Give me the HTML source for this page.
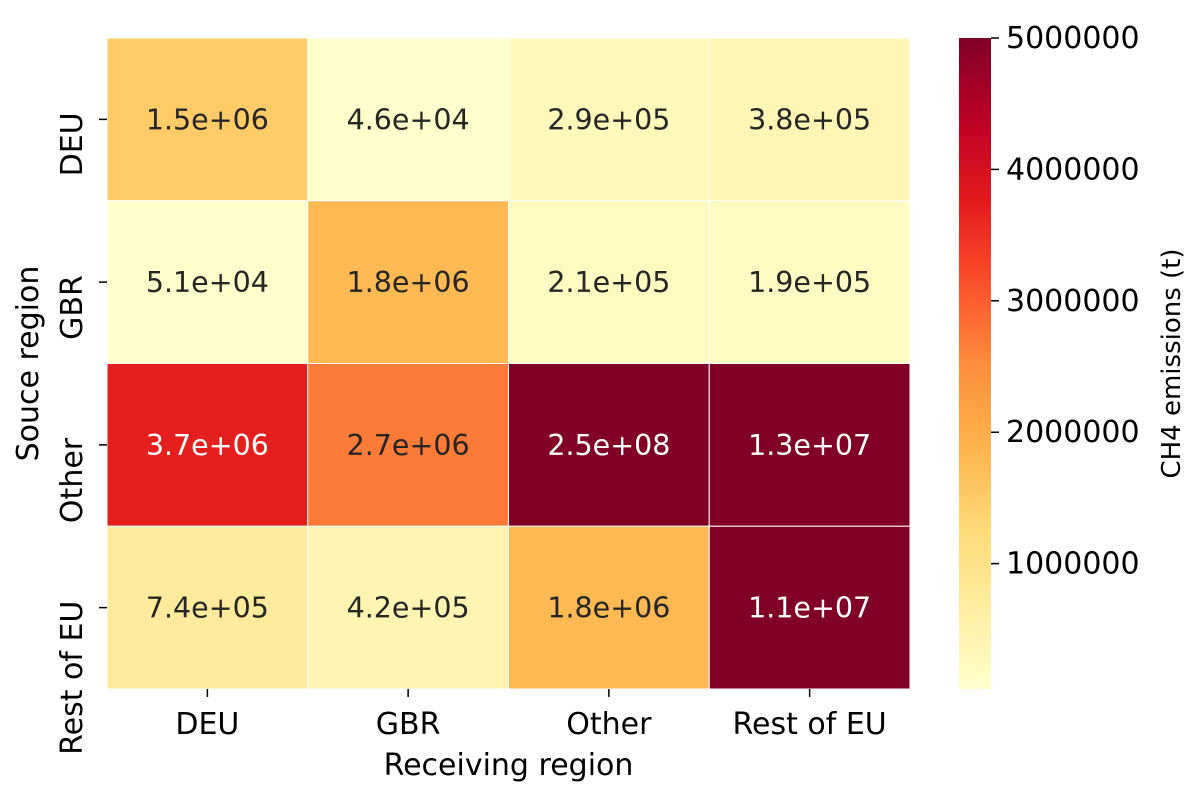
<!DOCTYPE html>
<html><head><meta charset="utf-8"><style>
body{margin:0;background:#fff}
svg text{font-family:"DejaVu Sans","Liberation Sans",sans-serif;fill:#000}
</style></head><body>
<svg id="c" width="1200" height="796" xmlns="http://www.w3.org/2000/svg"></svg>
<script>
const rows=["DEU","GBR","Other","Rest of EU"];
const cols=["DEU","GBR","Other","Rest of EU"];
const values=[[1.5e6,4.6e4,2.9e5,3.8e5],[5.1e4,1.8e6,2.1e5,1.9e5],[3.7e6,2.7e6,2.5e8,1.3e7],[7.4e5,4.2e5,1.8e6,1.1e7]];
const labels=[["1.5e+06","4.6e+04","2.9e+05","3.8e+05"],["5.1e+04","1.8e+06","2.1e+05","1.9e+05"],["3.7e+06","2.7e+06","2.5e+08","1.3e+07"],["7.4e+05","4.2e+05","1.8e+06","1.1e+07"]];
const cbTicks=[1000000,2000000,3000000,4000000,5000000];
const vmin=46000,vmax=5000000;
const stops=["#ffffcc","#ffeda0","#fed976","#feb24c","#fd8d3c","#fc4e2a","#e31a1c","#bd0026","#800026"];
function hex(h){return [1,3,5].map(i=>parseInt(h.substr(i,2),16));}
function cmap(t){t=Math.max(0,Math.min(1,t));const p=t*(stops.length-1);const i=Math.min(Math.floor(p),stops.length-2);const f=p-i;const a=hex(stops[i]),b=hex(stops[i+1]);return a.map((v,k)=>Math.round(v+(b[k]-v)*f));}
const L=107,R=910,T=38,B=689;
const cw=(R-L)/cols.length,ch=(B-T)/rows.length;
const svg=document.getElementById('c');const NS="http://www.w3.org/2000/svg";
function el(tag,attrs,parent){const e=document.createElementNS(NS,tag);for(const k in attrs)e.setAttribute(k,attrs[k]);(parent||svg).appendChild(e);return e;}
function norm(v){return (v-vmin)/(vmax-vmin);}
rows.forEach((r,i)=>{cols.forEach((c,j)=>{
 const rgb=cmap(norm(values[i][j]));
 const rect=el('rect',{x:L+j*cw,y:T+i*ch,width:cw,height:ch,fill:`rgb(${rgb})`,stroke:'#fff','stroke-width':1});
 
 
 const lum=(0.2126*rgb[0]+0.7152*rgb[1]+0.0722*rgb[2])/255;
 const t=el('text',{x:L+(j+.5)*cw,y:T+(i+.5)*ch+10,'text-anchor':'middle','font-size':28.5});
 t.style.fill=lum>0.408?'#262626':'#fff';
 t.textContent=labels[i][j];
 
 
});});
cols.forEach((c,j)=>{const x=L+(j+.5)*cw;
 el('line',{x1:x,x2:x,y1:B,y2:B+8,stroke:'#000','stroke-width':1.5});
 const t=el('text',{x:x,y:B+45,'text-anchor':'middle','font-size':30});t.textContent=c;
 
 });
rows.forEach((r,i)=>{const y=T+(i+.5)*ch;
 el('line',{x1:L-8,x2:L,y1:y,y2:y,stroke:'#000','stroke-width':1.5});
 const t=el('text',{x:0,y:0,'text-anchor':'end','font-size':30,transform:`translate(${L-25},${y-7}) rotate(-90)`});t.textContent=r;
 
 });
let t=el('text',{x:(L+R)/2,y:775,'text-anchor':'middle','font-size':30});t.textContent="Receiving region";

t=el('text',{x:0,y:0,'text-anchor':'middle','font-size':30,transform:`translate(38,${(T+B)/2}) rotate(-90)`});t.textContent="Souce region";

const CL=959,CR=991;
const defs=el('defs',{});const g=el('linearGradient',{id:'cg',x1:0,y1:1,x2:0,y2:0},defs);
for(let k=0;k<=20;k++){el('stop',{offset:k/20,'stop-color':`rgb(${cmap(k/20)})`},g);}
const cb=el('rect',{x:CL,y:T,width:CR-CL,height:B-T,fill:'url(#cg)'});

cbTicks.forEach(v=>{const y=B-norm(v)*(B-T);
 el('line',{x1:CR,x2:CR+8,y1:y,y2:y,stroke:'#000','stroke-width':1.5});
 const tt=el('text',{x:CR+15,y:y+10,'font-size':30});tt.textContent=String(v);
 });
t=el('text',{x:0,y:0,'text-anchor':'middle','font-size':26,transform:`translate(1180,${(T+B)/2}) rotate(-90)`});t.textContent="CH4 emissions (t)";

</script>
</body></html>
